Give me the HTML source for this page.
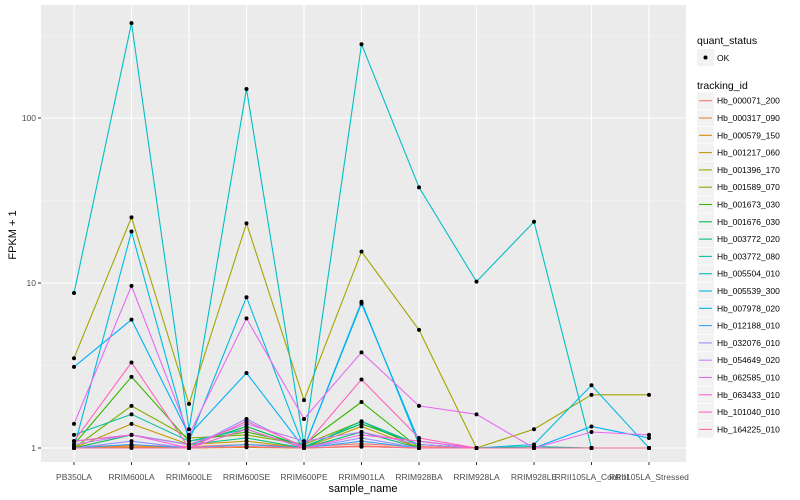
<!DOCTYPE html>
<html><head><meta charset="utf-8">
<style>
body{margin:0;background:#fff;}
svg{display:block;font-family:"Liberation Sans",sans-serif;}
</style></head>
<body>
<svg id="chart" width="800" height="500" viewBox="0 0 800 500" xmlns="http://www.w3.org/2000/svg">
<rect x="0" y="0" width="800" height="500" fill="#fff"/>
<rect x="41" y="5" width="645" height="457" fill="#ebebeb"/>
<g id="grid"></g>
<g id="series"></g>
<g id="axes"></g>
<text x="16" y="235" transform="rotate(-90 16 235)" text-anchor="middle" font-size="11" fill="#000">FPKM + 1</text>
<text x="363" y="492" text-anchor="middle" font-size="11" fill="#000">sample_name</text>
<g id="legend"></g>
</svg>
<script>
const categories = ["PB350LA","RRIM600LA","RRIM600LE","RRIM600SE","RRIM600PE","RRIM901LA","RRIM928BA","RRIM928LA","RRIM928LE","RRII105LA_Control","RRII105LA_Stressed"];
const seriesNames = ["Hb_000071_200","Hb_000317_090","Hb_000579_150","Hb_001217_060","Hb_001396_170","Hb_001589_070","Hb_001673_030","Hb_001676_030","Hb_003772_020","Hb_003772_080","Hb_005504_010","Hb_005539_300","Hb_007978_020","Hb_012188_010","Hb_032076_010","Hb_054649_020","Hb_062585_010","Hb_063433_010","Hb_101040_010","Hb_164225_010"];
const seriesColors = ["#F8766D","#EA8331","#D89000","#C09B00","#A3A500","#7CAE00","#39B600","#00BB4E","#00BF7D","#00C1A3","#00BFC4","#00BAE0","#00B0F6","#35A2FF","#9590FF","#C77CFF","#E76BF3","#FA62DB","#FF62BC","#FF6C91"];
const s0 = [1.02,1.04,1.02,1.05,1.02,1.06,1.02,1.0,1.0,1.0,1.0];
const s1 = [1.0,1.03,1.0,1.02,1.0,1.03,1.0,1.0,1.0,1.0,1.0];
const s2 = [1.0,1.01,1.0,1.01,1.0,1.02,1.0,1.0,1.0,1.0,1.0];
const s3 = [1.0,1.4,1.05,1.1,1.0,1.35,1.0,1.0,1.0,1.0,1.0];
const s4 = [3.5,25,1.85,23,1.95,15.5,5.2,1.0,1.3,2.1,2.1];
const s5 = [1.0,1.8,1.15,1.2,1.05,1.45,1.0,1.0,1.0,1.0,1.0];
const s6 = [1.05,2.7,1.1,1.25,1.05,1.9,1.0,1.0,1.0,1.0,1.0];
const s7 = [1.0,1.2,1.05,1.35,1.02,1.4,1.05,1.0,1.0,1.0,1.0];
const s8 = [1.1,1.2,1.05,1.15,1.0,1.25,1.0,1.0,1.0,1.0,1.0];
const s9 = [1.2,1.6,1.1,1.3,1.0,1.45,1.05,1.0,1.02,1.0,1.0];
const s10 = [8.7,376,1.3,150,1.05,280,38,10.2,23.5,1.0,1.0];
const s11 = [1.0,20.5,1.1,8.2,1.0,7.7,1.05,1.0,1.05,2.4,1.0];
const s12 = [3.1,6.0,1.2,2.85,1.0,7.5,1.1,1.0,1.0,1.35,1.15];
const s13 = [1.0,1.05,1.0,1.05,1.0,1.1,1.0,1.0,1.0,1.0,1.0];
const s14 = [1.0,1.1,1.0,1.5,1.0,1.15,1.0,1.0,1.0,1.0,1.0];
const s15 = [1.05,1.2,1.05,1.4,1.1,1.25,1.05,1.0,1.0,1.0,1.0];
const s16 = [1.4,9.6,1.2,6.1,1.5,3.8,1.8,1.6,1.0,1.25,1.2];
const s17 = [1.1,1.2,1.0,1.3,1.0,1.2,1.1,1.0,1.0,1.0,1.0];
const s18 = [1.1,3.3,1.0,1.45,1.02,2.6,1.15,1.0,1.0,1.0,1.0];
const s19 = [1.0,1.0,1.0,1.02,1.0,1.02,1.0,1.0,1.0,1.0,1.0];
const seriesValues = [s0,s1,s2,s3,s4,s5,s6,s7,s8,s9,s10,s11,s12,s13,s14,s15,s16,s17,s18,s19];
const yTickValues = [1,10,100];
const yTickLabels = ["1","10","100"];

const NS = "http://www.w3.org/2000/svg";
function xScale(i){ return 74 + i*57.5; }
function yScale(v){ return 448 - 165*Math.log10(v); }
function mk(tag, attrs, parent){
  const e = document.createElementNS(NS, tag);
  for (const k in attrs) e.setAttribute(k, attrs[k]);
  parent.appendChild(e); return e;
}
const grid = document.getElementById("grid");
const axes = document.getElementById("axes");
[0.5,1.5,2.5].forEach(p=>{
  const y = yScale(Math.pow(10,p));
  const l = mk("line",{x1:41,x2:686,y1:y,y2:y,stroke:"#f5f5f5","stroke-width":0.6},grid);
  
  
});
yTickValues.forEach((v,i)=>{
  const y = yScale(v);
  const l = mk("line",{x1:41,x2:686,y1:y,y2:y,stroke:"#fff","stroke-width":1.1},grid);
  
  
  const t = mk("line",{x1:38,x2:41,y1:y,y2:y,stroke:"#333","stroke-width":1},axes);
  
  
  const tx = mk("text",{x:36,y:y+3,"text-anchor":"end","font-size":"8.5",fill:"#4d4d4d"},axes);
  tx.textContent = yTickLabels[i];
  
  
});
categories.forEach((c,i)=>{
  const x = xScale(i);
  const l = mk("line",{x1:x,x2:x,y1:5,y2:462,stroke:"#fff","stroke-width":1.1},grid);
  
  
  const t = mk("line",{x1:x,x2:x,y1:462,y2:465,stroke:"#333","stroke-width":1},axes);
  
  
  const tx = mk("text",{x:x,y:480,"text-anchor":"middle","font-size":"8.5",fill:"#4d4d4d"},axes);
  tx.textContent = c;
  
  
});
const sg = document.getElementById("series");
seriesValues.forEach((vals,si)=>{
  const pts = vals.map((v,i)=>xScale(i).toFixed(1)+","+yScale(v).toFixed(1)).join(" ");
  const pl = mk("polyline",{points:pts,fill:"none",stroke:seriesColors[si],"stroke-width":1.1},sg);
  
  
});
seriesValues.forEach((vals,si)=>{
  vals.forEach((v,i)=>{
    const c = mk("circle",{cx:xScale(i),cy:yScale(v),r:2,fill:"#000"},sg);
    
    
  });
});
const lg = document.getElementById("legend");
const t1 = mk("text",{x:697,y:44,"font-size":"10.5",fill:"#000"},lg);
t1.textContent = "quant_status";


mk("rect",{x:697,y:49,width:17,height:17,fill:"#f2f2f2"},lg);
mk("circle",{cx:705.5,cy:57.5,r:2,fill:"#000"},lg);
const ok = mk("text",{x:717,y:61,"font-size":"8.5",fill:"#000"},lg);
ok.textContent = "OK";


const t2 = mk("text",{x:697,y:89,"font-size":"10.5",fill:"#000"},lg);
t2.textContent = "tracking_id";


seriesNames.forEach((n,i)=>{
  const cy = 100.7 + i*17.3;
  mk("rect",{x:697,y:cy-8.3,width:17,height:16.6,fill:"#f2f2f2"},lg);
  mk("line",{x1:699,x2:712,y1:cy,y2:cy,stroke:seriesColors[i],"stroke-width":1.1},lg);
  const tx = mk("text",{x:717,y:cy+3,"font-size":"8.5",fill:"#000"},lg);
  tx.textContent = n;
  
  
});
</script>
</body></html>
